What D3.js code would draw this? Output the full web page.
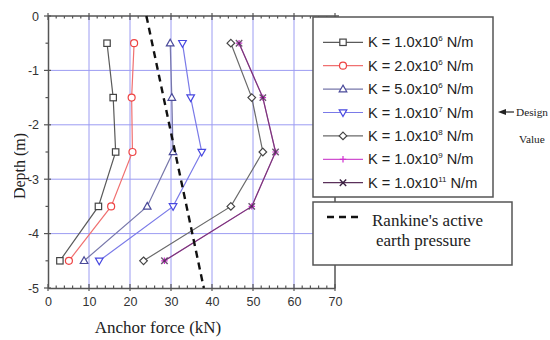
<!DOCTYPE html>
<html>
<head>
<meta charset="utf-8">
<script src="https://cdn.jsdelivr.net/npm/d3@7"></script>
<style>
  html, body { margin: 0; padding: 0; background: #fff; }
  svg { display: block; }
</style>
</head>
<body>
<svg id="chart" width="550" height="340"></svg>
<script>
// Anchor depths (m) and force per anchor row (kN) for each spring stiffness
const depths = [-0.5, -1.5, -2.5, -3.5, -4.5];
const forceK1e6   = [14.4, 15.9, 16.5, 12.3, 2.9];
const forceK2e6   = [21.0, 20.4, 20.6, 15.4, 5.1];
const forceK5e6   = [29.8, 30.2, 30.5, 24.2, 8.8];
const forceK1e7   = [32.8, 34.8, 37.5, 30.5, 12.5];
const forceK1e8   = [44.6, 49.7, 52.4, 44.6, 23.3];
const forceK1e9   = [46.6, 52.4, 55.5, 49.7, 28.4];
const forceK1e11  = [46.6, 52.4, 55.5, 49.7, 28.4];

// Rankine active earth pressure line
const rankineDepth = [0, -5];
const rankineForce = [24, 38];

const xTicks = [0, 10, 20, 30, 40, 50, 60, 70];
const yTicks = [0, -1, -2, -3, -4, -5];

const legendMantissa = ["1.0", "2.0", "5.0", "1.0", "1.0", "1.0", "1.0"];
const legendExponent = ["6", "6", "6", "7", "8", "9", "11"];

const series = [
  { values: forceK1e6,  line: "#5a5a5a", mark: "#444", symbol: "square" },
  { values: forceK2e6,  line: "#f07070", mark: "#ee4444", symbol: "circle" },
  { values: forceK5e6,  line: "#7777aa", mark: "#4a4a9a", symbol: "triUp" },
  { values: forceK1e7,  line: "#7a7ae8", mark: "#4848e0", symbol: "triDown" },
  { values: forceK1e8,  line: "#6a6a6a", mark: "#444", symbol: "diamond" },
  { values: forceK1e9,  line: "#d050d0", mark: "#d030d0", symbol: "plus" },
  { values: forceK1e11, line: "#5a305a", mark: "#3a2040", symbol: "cross", opacity: 0.75 }
];

const svg = d3.select("#chart");
const plotLeft = 48, plotRight = 335, plotTop = 16, plotBottom = 288;

const x = d3.scaleLinear().domain([0, 70]).range([plotLeft, plotRight]);
const y = d3.scaleLinear().domain([0, -5]).range([plotTop, plotBottom]);

// Grid
const grid = svg.append("g").attr("stroke", "#9c9cf2").attr("stroke-width", 1);
grid.append("g").selectAll("line").data(xTicks.filter(d => d > 0 && d < 70)).join("line")
  .attr("x1", d => x(d)).attr("x2", d => x(d)).attr("y1", plotTop).attr("y2", plotBottom);
grid.append("g").selectAll("line").data(yTicks.filter(d => d < 0 && d > -5)).join("line")
  .attr("x1", plotLeft).attr("x2", plotRight).attr("y1", d => y(d)).attr("y2", d => y(d));

// Axes
const axisColor = "#555";
const tickFont = "Liberation Sans, Arial, sans-serif";
const bottomAxis = d3.axisBottom(x).tickValues(xTicks).tickSize(0).tickPadding(9);
svg.append("g").attr("transform", `translate(0,${plotBottom})`).call(bottomAxis)
  .call(g => g.select(".domain").attr("stroke", axisColor).attr("stroke-width", 1.5))
  .call(g => g.selectAll("text").attr("font-family", tickFont)
    .attr("font-size", 12.5).attr("fill", "#333"));

const leftAxis = d3.axisLeft(y).tickValues(yTicks).tickSize(0).tickPadding(9).tickFormat(d => String(d));
svg.append("g").attr("transform", `translate(${plotLeft},0)`).call(leftAxis)
  .call(g => g.select(".domain").attr("stroke", axisColor).attr("stroke-width", 1.5))
  .call(g => g.selectAll("text").attr("font-family", tickFont)
    .attr("font-size", 12.5).attr("fill", "#333"));

// Top and right frame
svg.append("line").attr("x1", plotLeft).attr("x2", plotRight + 4).attr("y1", plotTop).attr("y2", plotTop)
  .attr("stroke", axisColor).attr("stroke-width", 1.5);
svg.append("line").attr("x1", plotRight).attr("x2", plotRight).attr("y1", plotTop).attr("y2", plotBottom)
  .attr("stroke", axisColor).attr("stroke-width", 1.5);

// Tick marks (major crossing the axis, minor inside)
const minorX = d3.range(0, 70.01, 2);
const minorY = d3.range(0, -5.01, -0.5);
const ticks = svg.append("g").attr("stroke", axisColor).attr("stroke-width", 1.2);
[plotBottom, plotTop].forEach((yy, i) => {
  const dir = i === 0 ? -1 : 1;
  ticks.append("g").selectAll("line").data(minorX).join("line")
    .attr("x1", d => x(d)).attr("x2", d => x(d))
    .attr("y1", d => xTicks.includes(d) ? yy - 3 * dir : yy)
    .attr("y2", d => yy + (xTicks.includes(d) ? 4 : 2.5) * dir);
});
ticks.append("g").selectAll("line").data(minorY).join("line")
  .attr("y1", d => y(d)).attr("y2", d => y(d))
  .attr("x1", d => plotLeft - (Number.isInteger(d) ? 4 : 2.5))
  .attr("x2", d => plotLeft + (Number.isInteger(d) ? 3 : 0));

// Marker symbols
function drawSymbol(g, type, cx, cy, color) {
  const s = 3.2;
  if (type === "square") {
    g.append("rect").attr("x", cx - s).attr("y", cy - s).attr("width", 2 * s).attr("height", 2 * s)
      .attr("fill", "#fff").attr("stroke", color).attr("stroke-width", 1.2);
  } else if (type === "circle") {
    g.append("circle").attr("cx", cx).attr("cy", cy).attr("r", s + 0.3)
      .attr("fill", "#fff").attr("stroke", color).attr("stroke-width", 1.2);
  } else if (type === "triUp") {
    g.append("path").attr("d", `M${cx},${cy - s - 0.8}L${cx + s + 0.6},${cy + s - 0.5}L${cx - s - 0.6},${cy + s - 0.5}Z`)
      .attr("fill", "#fff").attr("stroke", color).attr("stroke-width", 1.2);
  } else if (type === "triDown") {
    g.append("path").attr("d", `M${cx},${cy + s + 0.8}L${cx + s + 0.6},${cy - s + 0.5}L${cx - s - 0.6},${cy - s + 0.5}Z`)
      .attr("fill", "#fff").attr("stroke", color).attr("stroke-width", 1.2);
  } else if (type === "diamond") {
    g.append("path").attr("d", `M${cx},${cy - s - 0.6}L${cx + s + 0.6},${cy}L${cx},${cy + s + 0.6}L${cx - s - 0.6},${cy}Z`)
      .attr("fill", "#fff").attr("stroke", color).attr("stroke-width", 1.2);
  } else if (type === "plus") {
    g.append("path").attr("d", `M${cx - s},${cy}H${cx + s}M${cx},${cy - s}V${cy + s}`)
      .attr("stroke", color).attr("stroke-width", 1.2);
  } else if (type === "cross") {
    g.append("path").attr("d", `M${cx - s},${cy - s}L${cx + s},${cy + s}M${cx - s},${cy + s}L${cx + s},${cy - s}`)
      .attr("stroke", color).attr("stroke-width", 1.4);
  }
}

// Series lines and markers
const line = d3.line().x(d => x(d[0])).y(d => y(d[1]));
const plot = svg.append("g");
series.forEach(s => {
  const pts = s.values.map((v, i) => [v, depths[i]]);
  const g = plot.append("g").attr("opacity", s.opacity || 1);
  g.append("path").attr("d", line(pts)).attr("fill", "none")
    .attr("stroke", s.line).attr("stroke-width", 1.2);
  pts.forEach(p => drawSymbol(g, s.symbol, x(p[0]), y(p[1]), s.mark));
});

// Rankine line
plot.append("path")
  .attr("d", line(rankineForce.map((v, i) => [v, rankineDepth[i]])))
  .attr("fill", "none").attr("stroke", "#111").attr("stroke-width", 2.4)
  .attr("stroke-dasharray", "7,5");

// Legend box for stiffness series
const lg = svg.append("g");
lg.append("rect").attr("x", 313).attr("y", 17).attr("width", 180).attr("height", 180)
  .attr("fill", "#fff").attr("stroke", "#555").attr("stroke-width", 1.5);
series.forEach((s, i) => {
  const yy = 42.3 + i * 23.4;
  const g = lg.append("g");
  g.append("line").attr("x1", 323).attr("x2", 363).attr("y1", yy).attr("y2", yy)
    .attr("stroke", s.line).attr("stroke-width", 1.2);
  drawSymbol(g, s.symbol, 343, yy, s.mark);
  const t = g.append("text").attr("x", 368).attr("y", yy + 5)
    .attr("font-family", tickFont).attr("font-size", 14.6).attr("fill", "#222");
  t.append("tspan").text(`K = ${legendMantissa[i]}x10`);
  t.append("tspan").attr("font-size", 8).attr("dy", -6).text(legendExponent[i]);
  t.append("tspan").attr("dy", 6).text(" N/m");
});

// Design value annotation
const serif = "Liberation Serif, Times New Roman, serif";
svg.append("line").attr("x1", 514).attr("x2", 503).attr("y1", 112).attr("y2", 112)
  .attr("stroke", "#222").attr("stroke-width", 1.2);
svg.append("path").attr("d", "M498,112L506,109L506,115Z").attr("fill", "#222");
svg.append("text").attr("x", 516).attr("y", 116).text("Design")
  .attr("font-family", serif).attr("font-size", 11.3).attr("fill", "#222");
svg.append("text").attr("x", 519).attr("y", 143).text("Value")
  .attr("font-family", serif).attr("font-size", 11.3).attr("fill", "#222");

// Rankine legend box
const rb = svg.append("g");
rb.append("rect").attr("x", 313).attr("y", 202).attr("width", 199).attr("height", 63)
  .attr("fill", "#fff").attr("stroke", "#555").attr("stroke-width", 1.5);
rb.append("line").attr("x1", 327).attr("x2", 358).attr("y1", 217).attr("y2", 217)
  .attr("stroke", "#111").attr("stroke-width", 2.4).attr("stroke-dasharray", "7,5");
rb.append("text").attr("x", 372).attr("y", 226).text("Rankine's active")
  .attr("font-family", serif).attr("font-size", 17).attr("fill", "#222");
rb.append("text").attr("x", 376).attr("y", 246).text("earth pressure")
  .attr("font-family", serif).attr("font-size", 17).attr("fill", "#222");

// Axis titles
svg.append("text").attr("x", 158).attr("y", 333).attr("text-anchor", "middle")
  .text("Anchor force (kN)")
  .attr("font-family", serif).attr("font-size", 17).attr("fill", "#222");

// Y title sits against the left edge, its tops trimmed by the frame
svg.append("clipPath").attr("id", "ytitle-clip")
  .append("rect").attr("x", 14).attr("y", 0).attr("width", 40).attr("height", 340);
svg.append("g").attr("clip-path", "url(#ytitle-clip)")
  .append("text")
  .attr("transform", "translate(25,166) rotate(-90)").attr("text-anchor", "middle")
  .text("Depth (m)")
  .attr("font-family", serif).attr("font-size", 16).attr("fill", "#222");
</script>
</body>
</html>
